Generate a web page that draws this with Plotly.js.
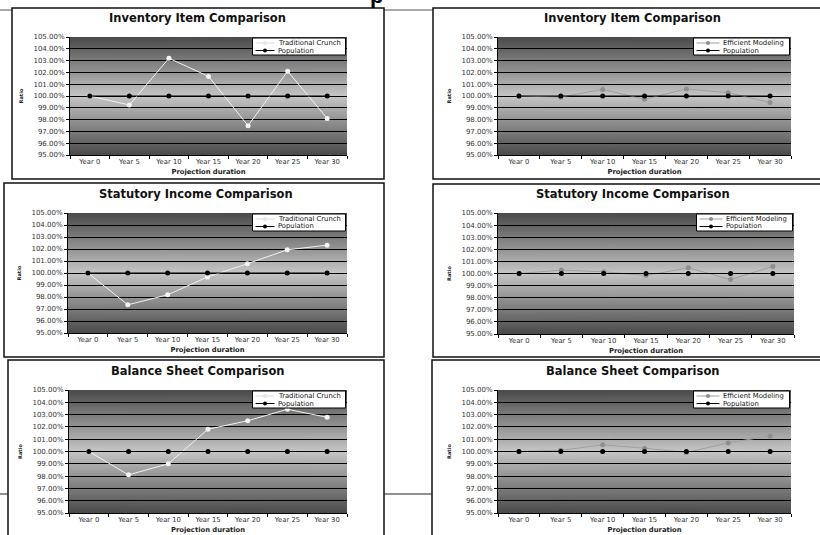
<!DOCTYPE html>
<html><head><meta charset="utf-8">
<script src="https://cdn.plot.ly/plotly-3.0.1.min.js"></script>
<style>html,body{margin:0;padding:0;background:#fff;}#chart{width:820px;height:535px;}</style>
</head><body><div id="chart"></div>
<script>
// ---------- data ----------
const categories = ['Year 0','Year 5','Year 10','Year 15','Year 20','Year 25','Year 30'];
const yTicks = [95,96,97,98,99,100,101,102,103,104,105];
const yTickLabels = ['95.00%','96.00%','97.00%','98.00%','99.00%','100.00%','101.00%','102.00%','103.00%','104.00%','105.00%'];
const population = [100,100,100,100,100,100,100];
const inventoryTraditional = [100.0, 99.24, 103.2, 101.66, 97.48, 102.1, 98.1];
const inventoryEfficient   = [100.0, 99.9, 100.56, 99.72, 100.6, 100.28, 99.45];
const statutoryTraditional = [100.0, 97.35, 98.18, 99.67, 100.77, 101.93, 102.32];
const statutoryEfficient   = [100.0, 100.28, 100.14, 99.83, 100.47, 99.5, 100.58];
const balanceTraditional   = [100.0, 98.1, 99.0, 101.81, 102.5, 103.43, 102.78];
const balanceEfficient     = [100.0, 100.1, 100.54, 100.27, 99.92, 100.7, 101.27];
const titles = ['Inventory Item Comparison','Statutory Income Comparison','Balance Sheet Comparison'];
const seriesNames = ['Traditional Crunch','Efficient Modeling','Population'];

// ---------- layout helpers ----------
const W=820, H=535;
const X = p => p/W, Y = p => 1 - p/H;
const FONT = 'DejaVu Sans, Liberation Sans, Arial, sans-serif';

function gradientURL(){
  const c=document.createElement('canvas'); c.width=4; c.height=256;
  const g=c.getContext('2d');
  const gr=g.createLinearGradient(0,0,0,256);
  gr.addColorStop(0,'#4a4a4a'); gr.addColorStop(0.5,'#c6c6c6'); gr.addColorStop(1,'#4a4a4a');
  g.fillStyle=gr; g.fillRect(0,0,4,256);
  return c.toDataURL();
}
const grad = gradientURL();

const styles = {
  'Traditional Crunch': {line:'#f2f2f2', marker:'#f4f4f4', legendLine:'#dcdcdc'},
  'Efficient Modeling': {line:'#a0a0a0', marker:'#8e8e8e', legendLine:'#a0a0a0'},
  'Population': {line:'#000000', marker:'#000000', legendLine:'#000000'}
};

const panels = [
  {title:titles[0], name:seriesNames[0], values:inventoryTraditional, box:[70,347,37,155], frame:[12,384,8,179], tx:197, ty:18},
  {title:titles[0], name:seriesNames[1], values:inventoryEfficient,   box:[498,791,37,155], frame:[433,830,8,179], tx:632, ty:18},
  {title:titles[1], name:seriesNames[0], values:statutoryTraditional, box:[68,347,213,333], frame:[4,384,183,357], tx:196, ty:194},
  {title:titles[1], name:seriesNames[1], values:statutoryEfficient,   box:[498,794,213,334], frame:[433,830,184,357], tx:633, ty:194},
  {title:titles[2], name:seriesNames[0], values:balanceTraditional,   box:[69,347,390,513], frame:[8,384,360,545], tx:197, ty:371},
  {title:titles[2], name:seriesNames[1], values:balanceEfficient,     box:[498,791,390,513], frame:[432,830,360,545], tx:632, ty:371}
];

const data=[], annotations=[], images=[];
const shapes=[
  {type:'line', xref:'paper', yref:'paper', x0:X(0), x1:X(433), y0:Y(10), y1:Y(10), line:{color:'#555', width:1}, layer:'below'},
  {type:'line', xref:'paper', yref:'paper', x0:X(0), x1:X(433), y0:Y(494), y1:Y(494), line:{color:'#222', width:1}, layer:'below'}
];
const layout = {
  width:W, height:H, margin:{l:0,r:0,t:0,b:0},
  paper_bgcolor:'#fff', plot_bgcolor:'rgba(0,0,0,0)',
  showlegend:false, font:{family:FONT, color:'#222'},
  shapes, annotations, images
};

panels.forEach((p,i)=>{
  const n = i+1, sfx = n>1 ? String(n) : '';
  const xa='x'+sfx, ya='y'+sfx;
  const [l,r,t,b] = p.box;
  const [fl,fr,ft,fb] = p.frame;
  shapes.push({type:'rect', xref:'paper', yref:'paper', x0:X(fl), x1:X(fr), y0:Y(fb), y1:Y(ft), fillcolor:'#fff', line:{color:'#111', width:1.5}, layer:'below'});
  images.push({source:grad, xref:xa+' domain', yref:ya+' domain', x:0, y:1, sizex:1, sizey:1, sizing:'stretch', xanchor:'left', yanchor:'top', layer:'below'});
  layout['xaxis'+sfx] = {
    domain:[X(l),X(r)], anchor:ya, type:'category', range:[-0.5,6.5],
    tickson:'boundaries', ticks:'outside', ticklen:3, tickcolor:'#000',
    showline:true, linecolor:'#000', linewidth:1, showgrid:false, zeroline:false,
    tickfont:{size:6.8, family:FONT, color:'#333'},
    title:{text:'<b>Projection duration</b>', font:{size:6.8, family:FONT, color:'#222'}, standoff:4},
    fixedrange:true
  };
  layout['yaxis'+sfx] = {
    domain:[Y(b),Y(t)], anchor:xa, range:[95,105], tickmode:'array', tickvals:yTicks, ticktext:yTickLabels,
    ticks:'outside', ticklen:3, tickcolor:'#000',
    showline:true, linecolor:'#000', linewidth:1,
    showgrid:true, gridcolor:'#000', gridwidth:1, zeroline:false,
    tickfont:{size:7, family:FONT, color:'#333'},
    title:{text:'<b>Ratio</b>', font:{size:5, family:FONT, color:'#222'}, standoff:9},
    fixedrange:true
  };
  [[p.name,p.values],[seriesNames[2],population]].forEach(([nm,vals])=>{
    const st = styles[nm];
    data.push({type:'scatter', mode:'lines+markers', name:nm, x:categories, y:vals, xaxis:xa, yaxis:ya,
      line:{color:st.line, width:1}, marker:{color:st.marker, size:5, symbol:'circle'}, hoverinfo:'skip'});
  });
  annotations.push({xref:'paper', yref:'paper', x:X(p.tx), y:Y(p.ty), text:'<b>'+p.title+'</b>', showarrow:false,
    xanchor:'center', yanchor:'middle', font:{size:11.5, family:FONT, color:'#111'}});
  // custom legend box
  const trad = p.name===seriesNames[0];
  const lw = trad ? 93 : 96;
  const lx1 = r-1.5, lx0 = lx1-lw, ly0 = t+1, ly1 = t+18;
  shapes.push({type:'rect', xref:'paper', yref:'paper', x0:X(lx0), x1:X(lx1), y0:Y(ly1), y1:Y(ly0), fillcolor:'#fff', line:{color:'#000', width:1}, layer:'above'});
  [[p.name, ly0+5], [seriesNames[2], ly0+12.5]].forEach(([nm,yy])=>{
    const st = styles[nm];
    const sx0 = lx0+3, sx1 = lx0+(trad?22:26), mx=(sx0+sx1)/2;
    shapes.push({type:'line', xref:'paper', yref:'paper', x0:X(sx0), x1:X(sx1), y0:Y(yy), y1:Y(yy), line:{color:st.legendLine, width:1}, layer:'above'});
    shapes.push({type:'circle', xref:'paper', yref:'paper', x0:X(mx-2), x1:X(mx+2), y0:Y(yy+2), y1:Y(yy-2), fillcolor:nm===seriesNames[0]?'#e6e6e6':st.marker, line:{width:0}, layer:'above'});
    annotations.push({xref:'paper', yref:'paper', x:X(sx1+1.5), y:Y(yy), text:nm, showarrow:false, xanchor:'left', yanchor:'middle',
      font:{size:6.8, family:FONT, color:'#111'}});
  });
});

// partially visible heading glyph above the first panel
annotations.push({xref:'paper', yref:'paper', x:X(376), y:Y(10), text:'<b>p</b>', showarrow:false, xanchor:'center', yanchor:'bottom',
  font:{size:22, family:'Liberation Sans, Arial, sans-serif', color:'#000'}});

Plotly.newPlot('chart', data, layout, {staticPlot:true, displayModeBar:false});
</script>
</body></html>
